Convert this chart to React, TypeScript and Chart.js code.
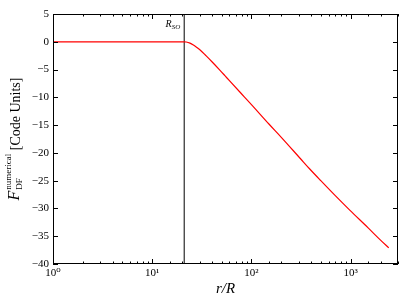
import React, { useEffect, useRef } from 'react';
import { Chart, registerables } from 'chart.js';

Chart.register(...registerables);

// r/R sample positions and the numerical dynamical-friction force
const rValues = [1, 2, 5, 10, 15, 20, 21, 22, 24, 26, 28, 30, 35, 40, 48, 54, 60, 76, 100, 150, 200, 314, 387, 500, 700, 979, 1500, 2000, 2420];
const fValues = [0, 0, 0, 0, 0, 0, 0, -0.04, -0.25, -0.6, -1.0, -1.4, -2.55, -3.6, -5.1, -6.1, -7.0, -9.0, -11.3, -14.8, -17.2, -21.1, -22.9, -25.0, -27.7, -30.3, -33.5, -35.7, -37.1];
const rSO = 21;
const xMin = 1;
const xMax = 3000;
const yMin = -40;
const yMax = 5;
const yStep = 5;
const supDigits = ['\u2070', '\u00B9', '\u00B2', '\u00B3', '\u2074'];

const SERIF = "'Liberation Serif', 'DejaVu Serif', serif";

const decorPlugin = {
  id: 'decor',
  afterDraw(chart: any) {
    const { ctx, chartArea, scales } = chart;
    const { left, right, top, bottom } = chartArea;
    const xs = scales.x;
    const ys = scales.y;
    ctx.save();
    ctx.strokeStyle = '#000';
    ctx.lineWidth = 1;
    // frame
    ctx.strokeRect(Math.round(left) + 0.5, Math.round(top) + 0.5, Math.round(right - left) - 1, Math.round(bottom - top) - 1);
    // x ticks (inside, top and bottom)
    ctx.beginPath();
    xs.ticks.forEach((t: any) => {
      const v = t.value;
      if (v < xMin || v > xMax) return;
      const lg = Math.log10(v);
      const major = Math.abs(lg - Math.round(lg)) < 1e-6;
      const len = major ? 5 : 2.5;
      const px = Math.round(xs.getPixelForValue(v)) + 0.5;
      ctx.moveTo(px, bottom);
      ctx.lineTo(px, bottom - len);
      ctx.moveTo(px, top);
      ctx.lineTo(px, top + len);
    });
    // y ticks (inside, left and right)
    ys.ticks.forEach((t: any) => {
      const py = Math.round(ys.getPixelForValue(t.value)) + 0.5;
      ctx.moveTo(left, py);
      ctx.lineTo(left + 5, py);
      ctx.moveTo(right, py);
      ctx.lineTo(right - 5, py);
    });
    ctx.stroke();

    // R_SO label
    const lx = xs.getPixelForValue(rSO) - 4;
    ctx.fillStyle = '#000';
    ctx.textBaseline = 'alphabetic';
    ctx.font = `italic 7px ${SERIF}`;
    const subW = ctx.measureText('SO').width;
    ctx.textAlign = 'left';
    ctx.fillText('SO', lx - subW, top + 15);
    ctx.font = `italic 10px ${SERIF}`;
    const rW = ctx.measureText('R').width;
    ctx.fillText('R', lx - subW - rW, top + 13);

    // x axis title
    ctx.font = `italic 15px ${SERIF}`;
    ctx.textAlign = 'center';
    ctx.fillText('r/R', (left + right) / 2, 293);

    // y axis title (rotated)
    const cy = (top + bottom) / 2;
    ctx.translate(20, cy);
    ctx.rotate(-Math.PI / 2);
    ctx.textAlign = 'left';
    const fFont = `italic 16px ${SERIF}`;
    const supFont = `9px ${SERIF}`;
    const mainFont = `14px ${SERIF}`;
    ctx.font = fFont;
    const fW = ctx.measureText('F').width;
    ctx.font = supFont;
    const supW = ctx.measureText('numerical').width;
    ctx.font = mainFont;
    const mainW = ctx.measureText(' [Code Units]').width;
    const total = fW + 1 + supW + mainW;
    let x0 = -total / 2;
    ctx.font = fFont;
    ctx.fillText('F', x0, -1);
    x0 += fW + 1;
    ctx.font = supFont;
    ctx.fillText('numerical', x0, -9);
    ctx.fillText('DF', x0, 2);
    x0 += supW;
    ctx.font = mainFont;
    ctx.fillText(' [Code Units]', x0, 0);
    ctx.restore();
  },
};

export default function App() {
  const ref = useRef<HTMLCanvasElement | null>(null);

  useEffect(() => {
    if (!ref.current) return;
    const chart = new Chart(ref.current, {
      type: 'line',
      data: {
        datasets: [
          {
            label: 'F',
            data: rValues.map((r, i) => ({ x: r, y: fValues[i] })),
            borderColor: '#ff0000',
            borderWidth: 1.2,
            pointRadius: 0,
            cubicInterpolationMode: 'monotone',
            fill: false,
          },
          {
            label: 'RSO',
            data: [
              { x: rSO, y: yMin },
              { x: rSO, y: yMax },
            ],
            borderColor: '#000000',
            borderWidth: 1,
            pointRadius: 0,
            fill: false,
          },
        ],
      },
      options: {
        animation: false,
        responsive: false,
        layout: { padding: { top: 14, right: 9, left: 0, bottom: 0 } },
        plugins: { legend: { display: false }, tooltip: { enabled: false } },
        scales: {
          x: {
            type: 'logarithmic',
            min: xMin,
            max: xMax,
            grid: { display: false, drawTicks: false },
            border: { display: false },
            afterFit: (s: any) => {
              s.height = 41;
            },
            ticks: {
              autoSkip: false,
              maxRotation: 0,
              minRotation: 0,
              padding: 3,
              color: '#000',
              font: { family: SERIF, size: 11 },
              callback: (v: any) => {
                const val = Number(v);
                const lg = Math.log10(val);
                if (Math.abs(lg - Math.round(lg)) < 1e-6) return '10' + supDigits[Math.round(lg)];
                return '';
              },
            },
          },
          y: {
            type: 'linear',
            min: yMin,
            max: yMax,
            grid: { display: false, drawTicks: false },
            border: { display: false },
            afterFit: (s: any) => {
              s.width = 53;
            },
            ticks: {
              stepSize: yStep,
              padding: 4,
              color: '#000',
              font: { family: SERIF, size: 11 },
              callback: (v: any) => {
                const n = Number(v);
                return n < 0 ? '\u2212' + Math.abs(n) : String(n);
              },
            },
          },
        },
      },
      plugins: [decorPlugin],
    });
    return () => chart.destroy();
  }, []);

  return (
    <div style={{ position: 'fixed', left: 0, top: 0, width: 407, height: 305, background: '#fff' }}>
      <canvas ref={ref} width={407} height={305} style={{ display: 'block' }} />
    </div>
  );
}
